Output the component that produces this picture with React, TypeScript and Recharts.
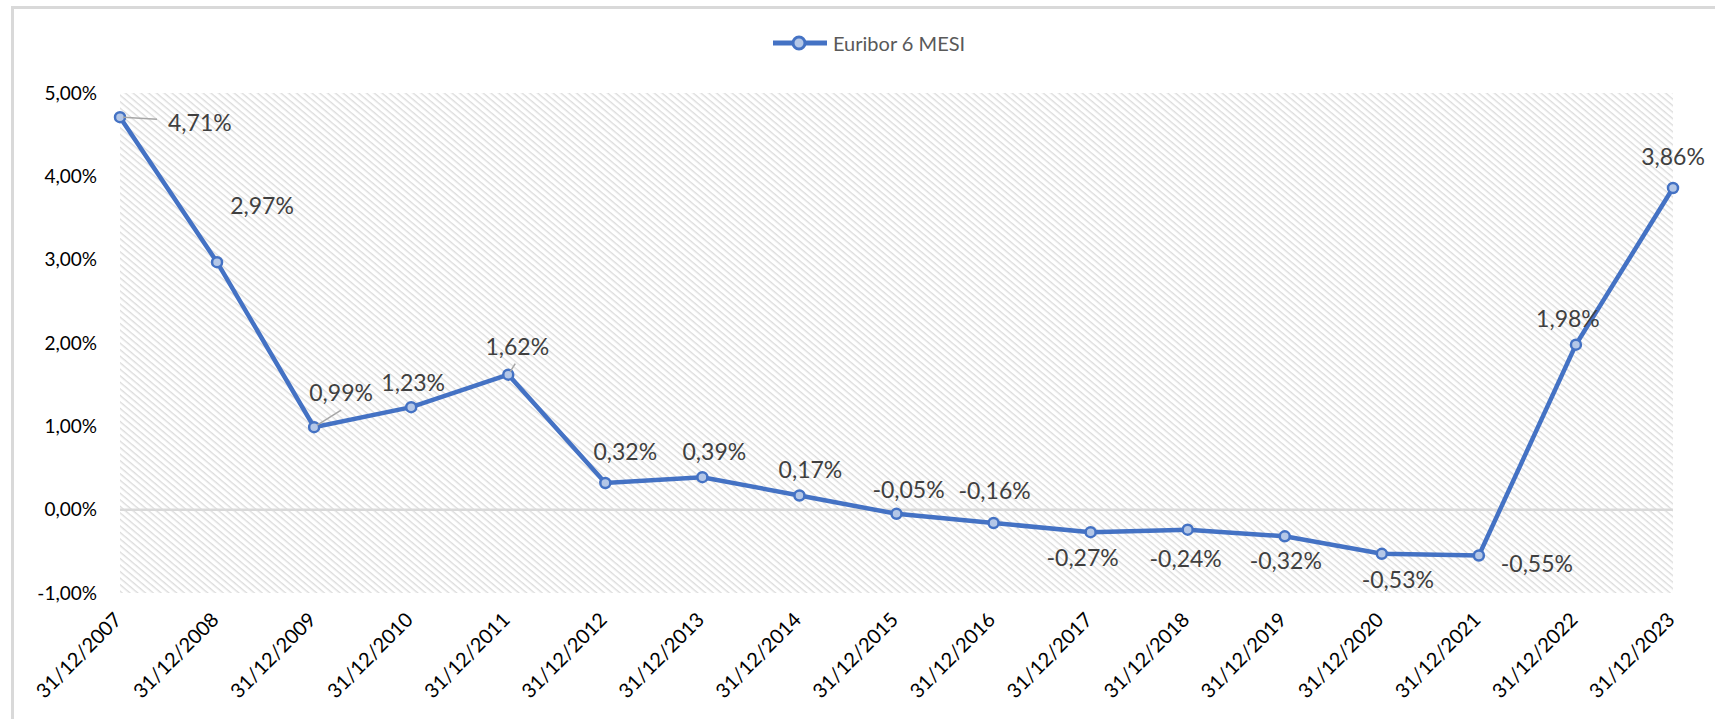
import React from "react";
import {
  LineChart,
  Line,
  XAxis,
  YAxis,
  CartesianGrid,
  ReferenceLine,
  LabelList,
} from "recharts";

// Euribor 6 mesi, valori a fine anno (%)
const dates = [
  "31/12/2007",
  "31/12/2008",
  "31/12/2009",
  "31/12/2010",
  "31/12/2011",
  "31/12/2012",
  "31/12/2013",
  "31/12/2014",
  "31/12/2015",
  "31/12/2016",
  "31/12/2017",
  "31/12/2018",
  "31/12/2019",
  "31/12/2020",
  "31/12/2021",
  "31/12/2022",
  "31/12/2023",
];
const euribor6m = [
  4.71, 2.97, 0.99, 1.23, 1.62, 0.32, 0.39, 0.17, -0.05, -0.16, -0.27, -0.24,
  -0.32, -0.53, -0.55, 1.98, 3.86,
];
const yTicks = [-1, 0, 1, 2, 3, 4, 5];
const seriesName = "Euribor 6 MESI";

const data = dates.map((d, i) => ({ date: d, value: euribor6m[i] }));

// where Excel put each data label, relative to its point (dx, dy, anchor)
const labelPlacement: { dx: number; dy: number; anchor?: "start" | "middle" }[] = [
  { dx: 48, dy: 5, anchor: "start" },
  { dx: 45, dy: -57 },
  { dx: 27, dy: -35 },
  { dx: 2, dy: -25 },
  { dx: 9, dy: -29 },
  { dx: 20, dy: -32 },
  { dx: 12, dy: -26 },
  { dx: 11, dy: -27 },
  { dx: 12, dy: -25 },
  { dx: 1, dy: -33 },
  { dx: -8, dy: 25 },
  { dx: -2, dy: 28 },
  { dx: 1, dy: 24 },
  { dx: 16, dy: 25 },
  { dx: 58, dy: 7 },
  { dx: -8, dy: -27 },
  { dx: 0, dy: -32 },
];
// leader lines (x1, y1, x2, y2 relative to the point)
const leaders: Record<number, number[]> = {
  0: [3, 0, 37, 2],
  2: [3, -2, 27, -17],
  4: [2, -3, 7, -11],
};

const FONT = "Lato, 'Noto Sans', sans-serif";
const BLUE = "#4472C4";

const fmt = (v: number) => v.toFixed(2).replace(".", ",") + "%";

const XTick = (props: any) => {
  const { x, y, payload } = props;
  const tx = x + 3;
  const ty = y + 20;
  return (
    <text
      x={tx}
      y={ty}
      transform={`rotate(-45 ${tx} ${ty})`}
      textAnchor="end"
      fontSize={20}
      fontFamily={FONT}
      fill="#000"
    >
      {payload.value}
    </text>
  );
};

const renderLabel = (props: any) => {
  const { x, y, value } = props;
  const index = props.index ?? euribor6m.indexOf(value);
  const p = labelPlacement[index];
  if (!p) return null;
  const lead = leaders[index];
  return (
    <g>
      {lead && (
        <line
          x1={x + lead[0]}
          y1={y + lead[1]}
          x2={x + lead[2]}
          y2={y + lead[3]}
          stroke="#a6a6a6"
          strokeWidth={1.5}
        />
      )}
      <text
        x={x + p.dx}
        y={y + p.dy}
        textAnchor={p.anchor ?? "middle"}
        dominantBaseline="central"
        fontSize={23}
        fontFamily={FONT}
        fill="#404040"
      >
        {fmt(value)}
      </text>
    </g>
  );
};

export default function App() {
  return (
    <div
      style={{
        position: "absolute",
        left: 0,
        top: 0,
        width: 1715,
        height: 719,
        background: "#fff",
        overflow: "hidden",
        fontFamily: FONT,
      }}
    >
      <svg width={0} height={0} style={{ position: "absolute" }}>
        <defs>
          <pattern
            id="hatch"
            patternUnits="userSpaceOnUse"
            width={5}
            height={5}
            patternTransform="rotate(40)"
          >
            <rect x={0} y={0} width={5} height={1.4} fill="#dcdcdc" />
          </pattern>
        </defs>
      </svg>

      {/* chart frame */}
      <div
        style={{
          position: "absolute",
          left: 11,
          top: 6,
          width: 1715 - 11,
          height: 719,
          borderTop: "3px solid #d9d9d9",
          borderLeft: "3px solid #d9d9d9",
          boxSizing: "border-box",
        }}
      />

      {/* legend */}
      <div
        style={{
          position: "absolute",
          left: 773,
          top: 30,
          display: "flex",
          alignItems: "center",
          gap: 6,
        }}
      >
        <svg width={54} height={26}>
          <line x1={0} y1={13} x2={54} y2={13} stroke={BLUE} strokeWidth={5} />
          <circle cx={26} cy={13} r={6} fill="#b4c7e7" stroke={BLUE} strokeWidth={3} />
        </svg>
        <span style={{ fontSize: 20, color: "#595959" }}>{seriesName}</span>
      </div>

      <div style={{ position: "absolute", left: 0, top: 0 }}>
        <LineChart
          width={1715}
          height={719}
          data={data}
          margin={{ top: 93, right: 42, bottom: 16, left: 20 }}
        >
          <CartesianGrid
            horizontal={false}
            vertical={false}
            fill="url(#hatch)"
            fillOpacity={1}
            stroke="none"
          />
          <XAxis
            dataKey="date"
            interval={0}
            axisLine={false}
            tickLine={false}
            height={110}
            tick={<XTick />}
          />
          <YAxis
            domain={[-1, 5]}
            ticks={yTicks}
            tickFormatter={fmt}
            axisLine={false}
            tickLine={false}
            tickSize={0}
            tickMargin={23}
            width={100}
            tick={{ fontSize: 19, fill: "#000", fontFamily: FONT }}
          />
          <ReferenceLine y={0} stroke="#d9d9d9" strokeWidth={2.5} />
          <Line
            type="linear"
            dataKey="value"
            name={seriesName}
            stroke={BLUE}
            strokeWidth={4.5}
            dot={{ r: 5, fill: "#b4c7e7", stroke: BLUE, strokeWidth: 2.5 }}
            isAnimationActive={false}
          >
            <LabelList dataKey="value" content={renderLabel} />
          </Line>
        </LineChart>
      </div>
    </div>
  );
}
